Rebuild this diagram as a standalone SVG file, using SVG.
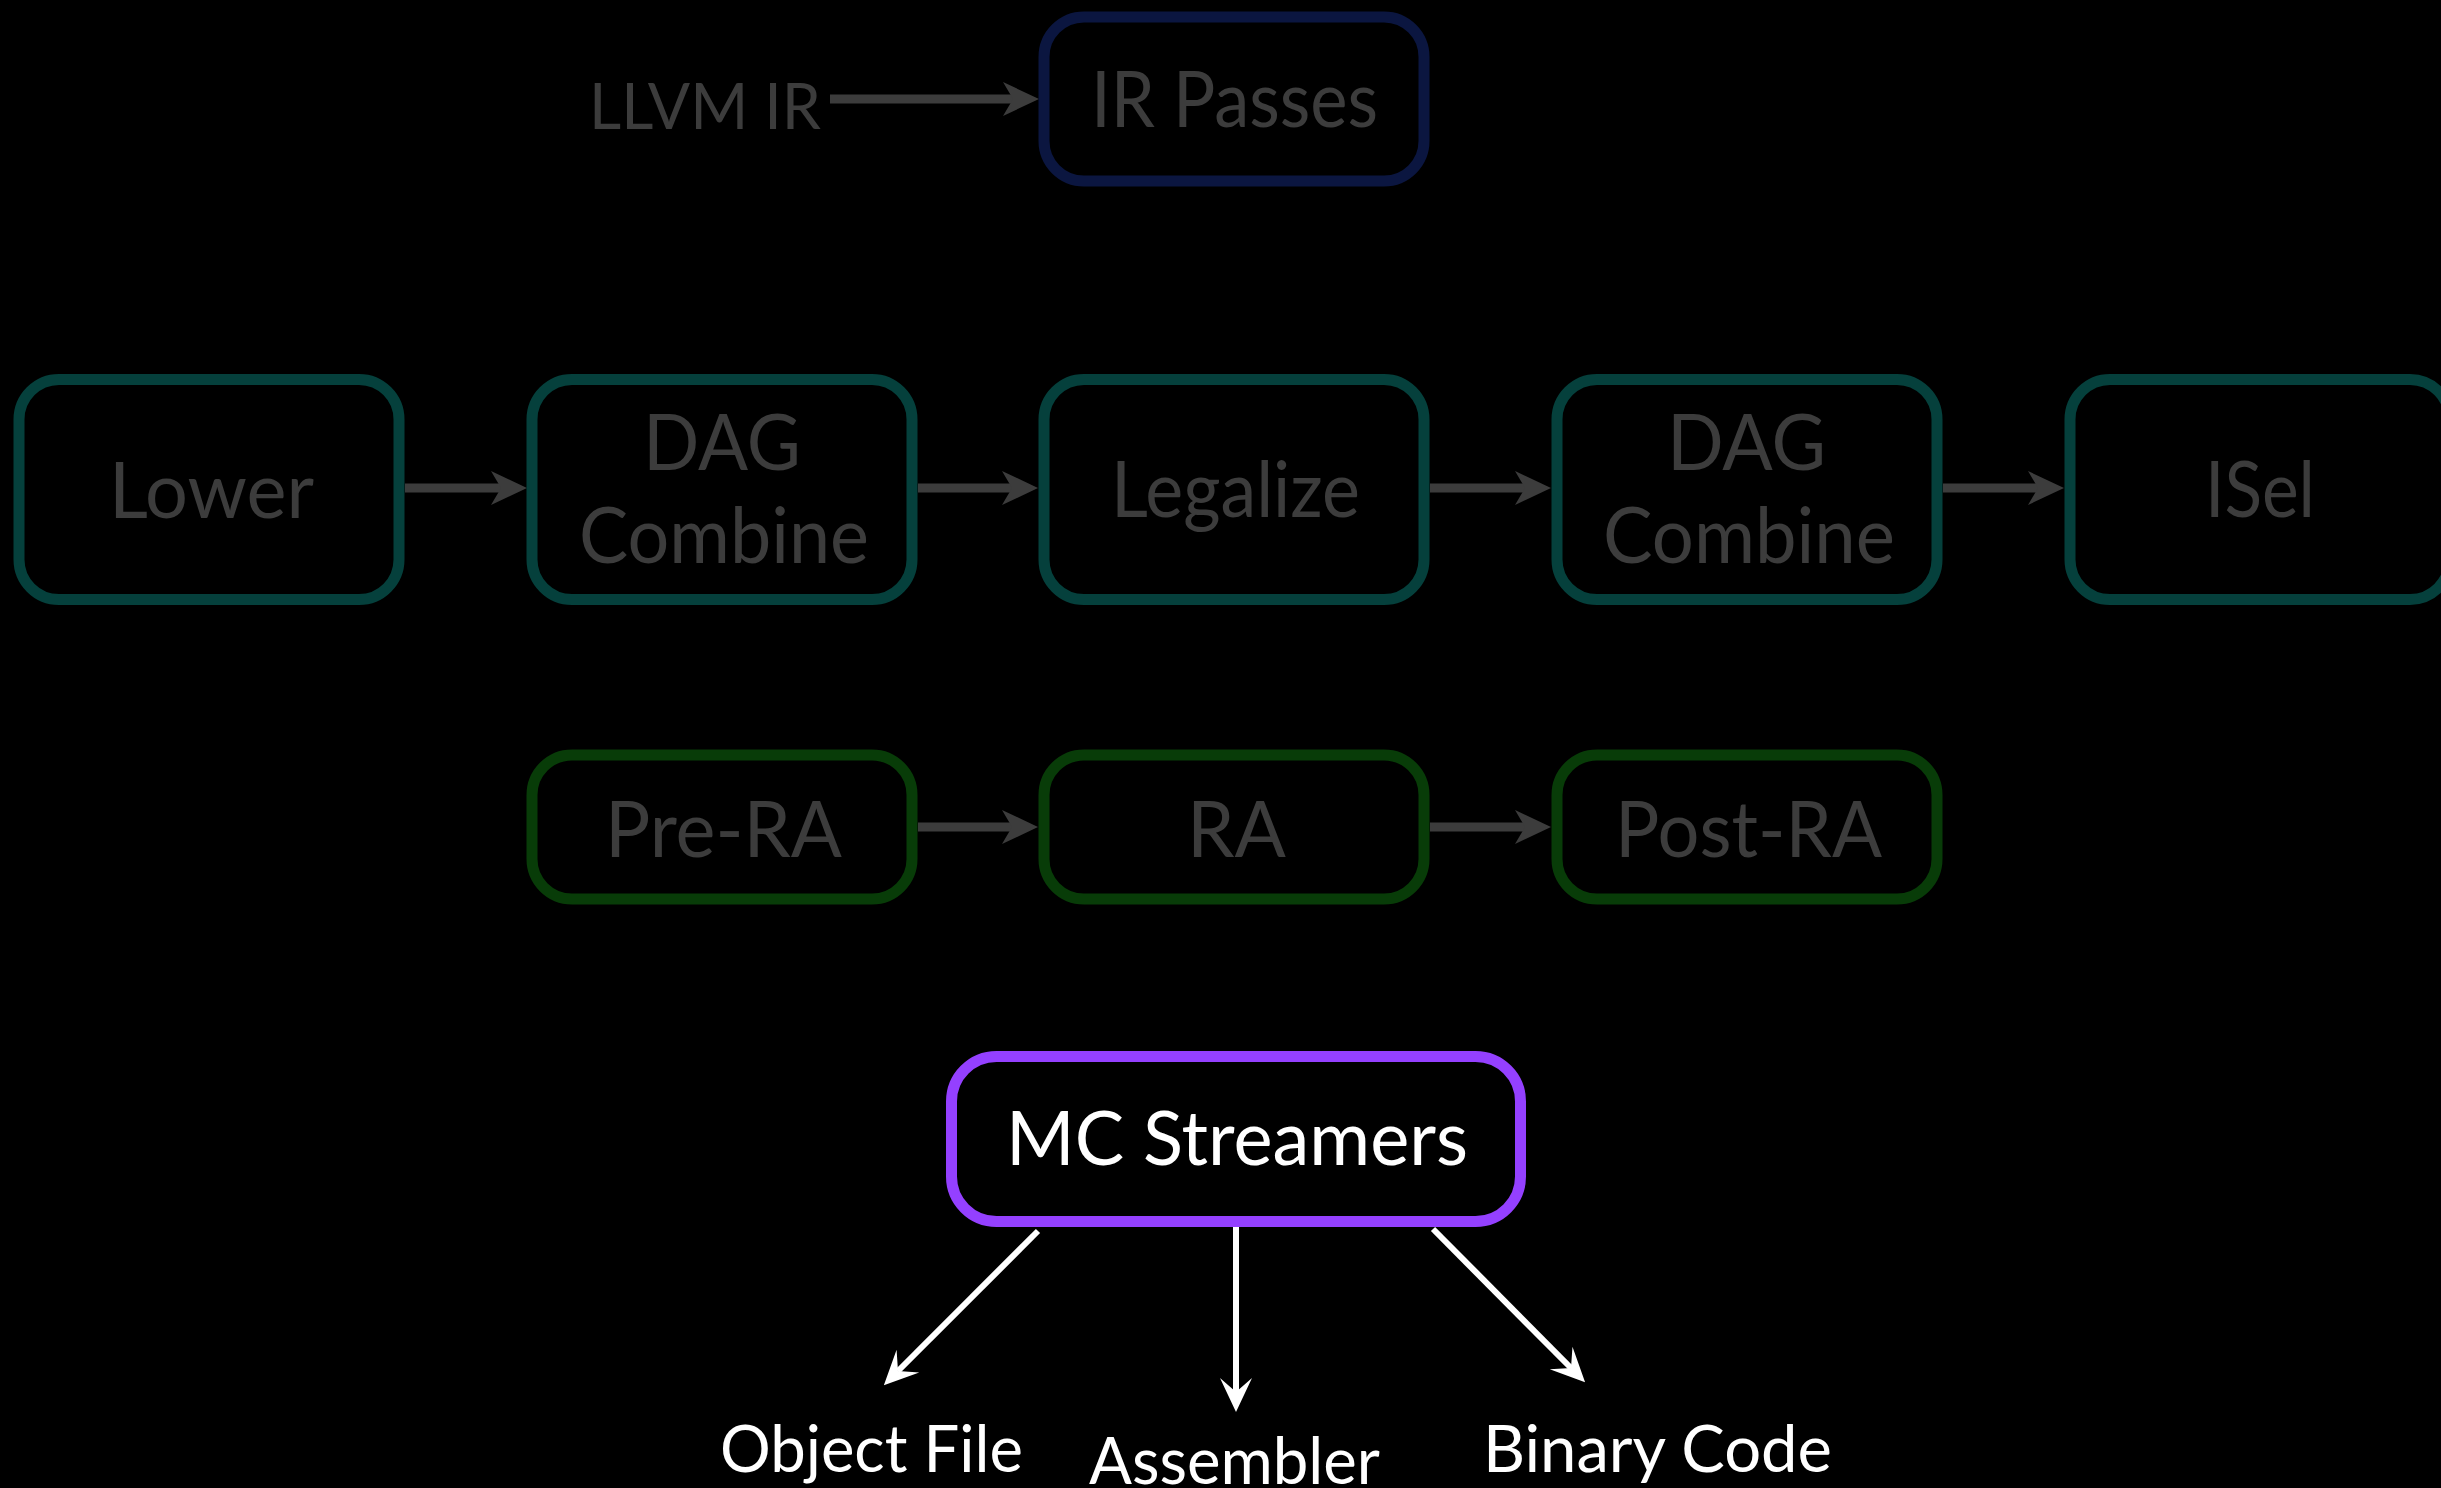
<svg xmlns="http://www.w3.org/2000/svg" width="2441" height="1488" viewBox="0 0 2441 1488">
  <style>
    .bg { fill: #000000; }
    .box { fill: #000000; stroke-width: 11; }
    .ir { stroke: #0b1640; }
    .dag { stroke: #05403c; }
    .mi { stroke: #083c08; }
    .mc { stroke: #9440ff; }
    .t { font-family: "Lato", "Liberation Sans", sans-serif; text-anchor: middle; }
    .dim { fill: #3c3c3c; font-size: 77px; }
    .small { font-size: 64px; }
    .lit { fill: #ffffff; font-size: 75px; }
    .out { fill: #ffffff; font-size: 65px; }
    .flow { stroke: #3c3c3c; stroke-width: 9; fill: none; marker-end: url(#headGray); }
    .emit { stroke: #ffffff; stroke-width: 6; fill: none; marker-end: url(#headWhite); }
  </style>
  <defs>
    <marker id="headGray" markerUnits="userSpaceOnUse" orient="auto" refX="0" refY="0" markerWidth="80" markerHeight="80" overflow="visible">
      <path d="M26,0 L-10,-17 L0,0 L-10,17 Z" fill="#3c3c3c"/>
    </marker>
    <marker id="headWhite" markerUnits="userSpaceOnUse" orient="auto" refX="0" refY="0" markerWidth="80" markerHeight="80" overflow="visible">
      <path d="M20,0 L-14,-16 L0,0 L-14,16 Z" fill="#ffffff"/>
    </marker>
  </defs>

  <rect class="bg" x="0" y="0" width="2441" height="1488"/>

  <!-- connectors -->
  <g id="connectors">
    <line class="flow" x1="830" y1="99" x2="1013" y2="99"/>
    <line class="flow" x1="405" y1="488" x2="501" y2="488"/>
    <line class="flow" x1="918" y1="488" x2="1012" y2="488"/>
    <line class="flow" x1="1430" y1="488" x2="1525" y2="488"/>
    <line class="flow" x1="1943" y1="488" x2="2038" y2="488"/>
    <line class="flow" x1="918" y1="827" x2="1012" y2="827"/>
    <line class="flow" x1="1430" y1="827" x2="1525" y2="827"/>
    <line class="emit" x1="1038" y1="1231" x2="898" y2="1371"/>
    <line class="emit" x1="1236" y1="1227" x2="1236" y2="1392"/>
    <line class="emit" x1="1433" y1="1229" x2="1571" y2="1368"/>
  </g>

  <!-- IR level -->
  <g id="llvm-ir">
    <text class="t dim small" x="705" y="129" textLength="232" lengthAdjust="spacingAndGlyphs">LLVM IR</text>
  </g>
  <g id="ir-passes">
    <rect class="box ir" x="1044" y="17" width="380" height="164" rx="40"/>
    <text class="t dim" x="1234.5" y="127" textLength="287" lengthAdjust="spacingAndGlyphs">IR Passes</text>
  </g>

  <!-- SelectionDAG level -->
  <g id="lower">
    <rect class="box dag" x="19" y="379.5" width="380" height="220" rx="40"/>
    <text class="t dim" x="211.5" y="518" textLength="205" lengthAdjust="spacingAndGlyphs">Lower</text>
  </g>
  <g id="dag-combine-1">
    <rect class="box dag" x="532" y="379.5" width="380" height="220" rx="40"/>
    <text class="t dim" x="722" y="470" textLength="158" lengthAdjust="spacingAndGlyphs">DAG</text>
    <text class="t dim" x="724" y="563" textLength="290" lengthAdjust="spacingAndGlyphs">Combine</text>
  </g>
  <g id="legalize">
    <rect class="box dag" x="1044" y="379.5" width="380" height="220" rx="40"/>
    <text class="t dim" x="1235.5" y="517" textLength="249" lengthAdjust="spacingAndGlyphs">Legalize</text>
  </g>
  <g id="dag-combine-2">
    <rect class="box dag" x="1557" y="379.5" width="380" height="220" rx="40"/>
    <text class="t dim" x="1746.5" y="470" textLength="159" lengthAdjust="spacingAndGlyphs">DAG</text>
    <text class="t dim" x="1749" y="563" textLength="292" lengthAdjust="spacingAndGlyphs">Combine</text>
  </g>
  <g id="isel">
    <rect class="box dag" x="2070" y="379.5" width="380" height="220" rx="40"/>
    <text class="t dim" x="2260" y="517" textLength="110" lengthAdjust="spacingAndGlyphs">ISel</text>
  </g>

  <!-- MachineInstr level -->
  <g id="pre-ra">
    <rect class="box mi" x="532" y="755" width="380" height="144" rx="40"/>
    <text class="t dim" x="723.5" y="857" textLength="237" lengthAdjust="spacingAndGlyphs">Pre-RA</text>
  </g>
  <g id="ra">
    <rect class="box mi" x="1044" y="755" width="380" height="144" rx="40"/>
    <text class="t dim" x="1236.5" y="857" textLength="99" lengthAdjust="spacingAndGlyphs">RA</text>
  </g>
  <g id="post-ra">
    <rect class="box mi" x="1557" y="755" width="380" height="144" rx="40"/>
    <text class="t dim" x="1748.5" y="857" textLength="267" lengthAdjust="spacingAndGlyphs">Post-RA</text>
  </g>

  <!-- MC layer -->
  <g id="mc-streamers">
    <rect class="box mc" x="951.5" y="1056.5" width="569" height="165" rx="45"/>
    <text class="t lit" x="1237" y="1165" textLength="462" lengthAdjust="spacingAndGlyphs">MC Streamers</text>
  </g>
  <g id="object-file">
    <text class="t out" x="871.5" y="1472" textLength="303" lengthAdjust="spacingAndGlyphs">Object File</text>
  </g>
  <g id="assembler">
    <text class="t out" x="1234.5" y="1484" textLength="291" lengthAdjust="spacingAndGlyphs">Assembler</text>
  </g>
  <g id="binary-code">
    <text class="t out" x="1657.5" y="1472" textLength="349" lengthAdjust="spacingAndGlyphs">Binary Code</text>
  </g>
</svg>
